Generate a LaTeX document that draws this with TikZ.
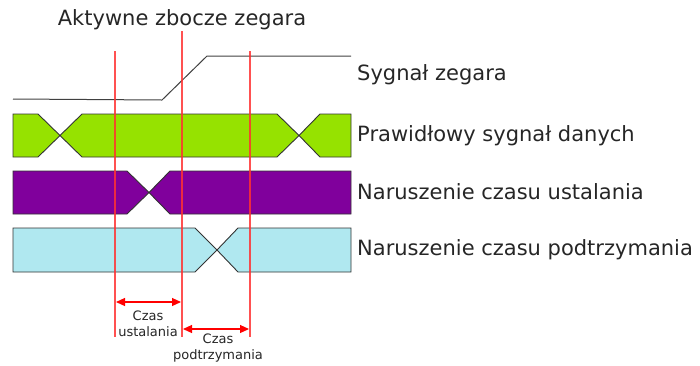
\documentclass[tikz,border=0pt]{standalone}
\usepackage{fontspec}
\setmainfont{DejaVu Sans}
\usetikzlibrary{arrows.meta}
\definecolor{dgreen}{RGB}{150,226,0}
\definecolor{dpurple}{RGB}{128,0,156}
\definecolor{dcyan}{RGB}{176,232,240}
\definecolor{redl}{RGB}{255,50,50}
\tikzset{
  band/.style={draw=black!80, line width=0.9pt, line join=miter},
  clk/.style={draw=black!75, line width=1pt},
  redline/.style={draw=redl, line width=1.2pt, opacity=0.85},
  spanarrow/.style={draw=red, line width=1.2pt, {Triangle[length=9pt,width=8pt]}-{Triangle[length=9pt,width=8pt]}},
  lbl/.style={anchor=west, font=\fontsize{21}{24}\selectfont, text=black!85, inner sep=0pt},
  small/.style={font=\fontsize{13}{16.5}\selectfont, text=black!85, align=center, inner sep=0pt}
}
\begin{document}
\begin{tikzpicture}[x=1pt,y=-1pt]
\useasboundingbox (0,0) rectangle (700,365);
% clock
\draw[clk] (13,99) -- (162,100) -- (207,56) -- (351,56);
% green band
\path[band, fill=dgreen] (13,114) -- (38,114) -- (60,135.5) -- (82,114) -- (277,114) -- (299,135.5) -- (320,114) -- (351,114) -- (351,157) -- (320,157) -- (299,135.5) -- (277,157) -- (82,157) -- (60,135.5) -- (38,157) -- (13,157) -- cycle;
% purple band
\path[band, fill=dpurple] (13,171) -- (127,171) -- (149,192.5) -- (170,171) -- (351,171) -- (351,214) -- (170,214) -- (149,192.5) -- (127,214) -- (13,214) -- cycle;
% cyan band
\path[band, fill=dcyan] (13,228) -- (195,228) -- (217,250) -- (238,228) -- (351,228) -- (351,272) -- (238,272) -- (217,250) -- (195,272) -- (13,272) -- cycle;
% red marker lines
\coordinate (s1) at (115,51); \coordinate (s2) at (115,337);
\coordinate (e1) at (182,31); \coordinate (e2) at (182,337);
\coordinate (h1) at (250,51); \coordinate (h2) at (250,337);
\draw[redline] (s1) -- (s2);
\draw[redline] (e1) -- (e2);
\draw[redline] (h1) -- (h2);
\coordinate (a1) at (116,302); \coordinate (a2) at (181,302);
\coordinate (b1) at (183,329); \coordinate (b2) at (249,329);
\draw[spanarrow] (a1) -- (a2);
\draw[spanarrow] (b1) -- (b2);
% texts
\node[font=\fontsize{21}{24}\selectfont, text=black!85, inner sep=0pt] (title) at (182,20) {Aktywne zbocze zegara};
\node[lbl] (l1) at (357,75) {Sygnał zegara};
\node[lbl] (l2) at (357,136) {Prawidłowy sygnał danych};
\node[lbl] (l3) at (357,192) {Naruszenie czasu ustalania};
\node[lbl] (l4) at (357,250) {Naruszenie czasu podtrzymania};
\node[small] (t1) at (148,324) {Czas\\ustalania};
\node[small] (t2) at (218,348) {Czas\\podtrzymania};
\end{tikzpicture}
\end{document}
